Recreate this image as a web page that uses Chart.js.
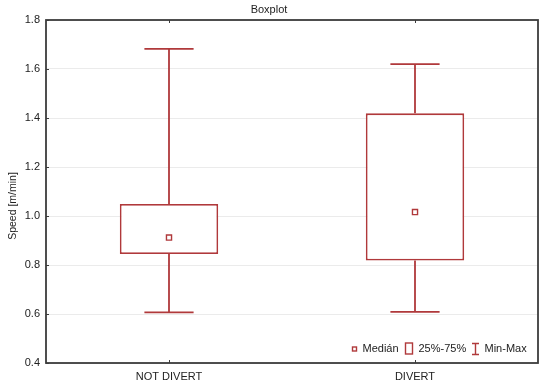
<!DOCTYPE html>
<html>
<head>
<meta charset="utf-8">
<script src="https://cdn.jsdelivr.net/npm/chart.js@4/dist/chart.umd.min.js"></script>
<style>
html,body{margin:0;padding:0;background:#fff;}
#wrap{width:550px;height:386px;position:relative;}
</style>
</head>
<body>
<div id="wrap"><canvas id="c" width="550" height="386"></canvas></div>
<script>
// ---- data ----
const categories = ['NOT DIVERT', 'DIVERT'];
const minVals    = [0.607, 0.609];
const q1Vals     = [0.845, 0.818];
const medianVals = [0.912, 1.016];
const q3Vals     = [1.049, 1.419];
const maxVals    = [1.682, 1.620];
const yTicks     = [0.4, 0.6, 0.8, 1.0, 1.2, 1.4, 1.6, 1.8];
const titleText  = 'Boxplot';
const yTitle     = 'Speed [m/min]';
const legendItems = ['Medián', '25%-75%', 'Min-Max'];

const RED = '#b0393b';
const FRAME = '#3c3c3c';
const FONT = '"Liberation Sans", Arial, sans-serif';

const boxPlugin = {
  id: 'boxExtras',
  beforeDatasetsDraw(chart) {
    const ctx = chart.ctx;
    const x = chart.scales.x, y = chart.scales.y;
    ctx.save();
    ctx.strokeStyle = RED;
    ctx.lineWidth = 1.8;
    const meta = chart.getDatasetMeta(0);
    categories.forEach((c, i) => {
      const px = x.getPixelForValue(i);
      const bw = meta.data[i].width;
      const cap = bw / 4;
      const yMax = y.getPixelForValue(maxVals[i]);
      const yMin = y.getPixelForValue(minVals[i]);
      const yQ1 = y.getPixelForValue(q1Vals[i]);
      const yQ3 = y.getPixelForValue(q3Vals[i]);
      ctx.beginPath();
      ctx.moveTo(px, yMax); ctx.lineTo(px, yQ3);
      ctx.moveTo(px, yQ1); ctx.lineTo(px, yMin);
      ctx.moveTo(px - cap, yMax); ctx.lineTo(px + cap, yMax);
      ctx.moveTo(px - cap, yMin); ctx.lineTo(px + cap, yMin);
      ctx.stroke();
    });
    ctx.restore();
  },
  afterDraw(chart) {
    const ctx = chart.ctx, a = chart.chartArea;
    const x = chart.scales.x, y = chart.scales.y;
    ctx.save();
    // frame
    ctx.strokeStyle = FRAME;
    ctx.lineWidth = 1.8;
    ctx.strokeRect(a.left, a.top, a.right - a.left, a.bottom - a.top);
    // inward tick marks
    ctx.lineWidth = 1;
    ctx.beginPath();
    yTicks.forEach(v => {
      const py = Math.round(y.getPixelForValue(v)) + 0.5;
      ctx.moveTo(a.left, py); ctx.lineTo(a.left + 3, py);
    });
    categories.forEach((c, i) => {
      const px = Math.round(x.getPixelForValue(i)) + 0.5;
      ctx.moveTo(px, a.bottom); ctx.lineTo(px, a.bottom - 3);
      ctx.moveTo(px, a.top); ctx.lineTo(px, a.top + 3);
    });
    ctx.stroke();
    // title
    ctx.fillStyle = '#222';
    ctx.font = '11px ' + FONT;
    ctx.textAlign = 'center';
    ctx.textBaseline = 'middle';
    ctx.fillText(titleText, 269, 10);
    // y title
    ctx.save();
    ctx.translate(13, 206);
    ctx.rotate(-Math.PI / 2);
    ctx.font = '10.5px ' + FONT;
    ctx.fillText(yTitle, 0, 0);
    ctx.restore();
    // legend
    const ly = 349;
    ctx.font = '11px ' + FONT;
    ctx.textAlign = 'left';
    ctx.fillStyle = '#222';
    ctx.strokeStyle = RED;
    ctx.lineWidth = 1.4;
    ctx.strokeRect(352.5, ly - 2, 4, 4);
    ctx.fillText(legendItems[0], 362.5, ly);
    ctx.strokeRect(405.5, ly - 6, 7, 11);
    ctx.fillText(legendItems[1], 418.5, ly);
    ctx.beginPath();
    ctx.moveTo(472, ly - 5.5); ctx.lineTo(479, ly - 5.5);
    ctx.moveTo(475.5, ly - 5.5); ctx.lineTo(475.5, ly + 5.5);
    ctx.moveTo(472, ly + 5.5); ctx.lineTo(479, ly + 5.5);
    ctx.stroke();
    ctx.fillText(legendItems[2], 484.5, ly);
    ctx.restore();
  }
};

new Chart(document.getElementById('c'), {
  data: {
    labels: categories,
    datasets: [
      {
        type: 'bar',
        label: '25%-75%',
        data: categories.map((c, i) => [q1Vals[i], q3Vals[i]]),
        backgroundColor: '#ffffff',
        borderColor: RED,
        borderWidth: 1.8,
        borderSkipped: false,
        barPercentage: 0.4,
        categoryPercentage: 1,
        order: 2
      },
      {
        type: 'line',
        label: 'Medián',
        data: medianVals,
        showLine: false,
        pointStyle: 'rect',
        pointRadius: 3.6,
        pointBorderWidth: 1.4,
        pointBackgroundColor: '#ffffff',
        pointBorderColor: RED,
        order: 1
      }
    ]
  },
  options: {
    responsive: false,
    animation: false,
    events: [],
    layout: { padding: { left: 0, top: 20, right: 12, bottom: 0 } },
    plugins: { legend: { display: false }, tooltip: { enabled: false }, title: { display: false } },
    scales: {
      x: {
        type: 'category',
        offset: true,
        grid: { display: false, drawTicks: false },
        border: { display: false },
        ticks: { color: '#222', font: { family: FONT, size: 11 }, padding: 7, maxRotation: 0 },
        afterFit(s) { s.height = 23; }
      },
      y: {
        type: 'linear',
        min: 0.4, max: 1.8,
        afterBuildTicks(s) { s.ticks = yTicks.map(v => ({ value: v })); },
        grid: { color: '#ebebeb', drawTicks: false, lineWidth: 1 },
        border: { display: false },
        ticks: { color: '#222', font: { family: FONT, size: 11 }, padding: 6,
                 callback: v => v.toFixed(1) },
        afterFit(s) { s.width = 46; }
      }
    }
  },
  plugins: [boxPlugin]
});
</script>
</body>
</html>
